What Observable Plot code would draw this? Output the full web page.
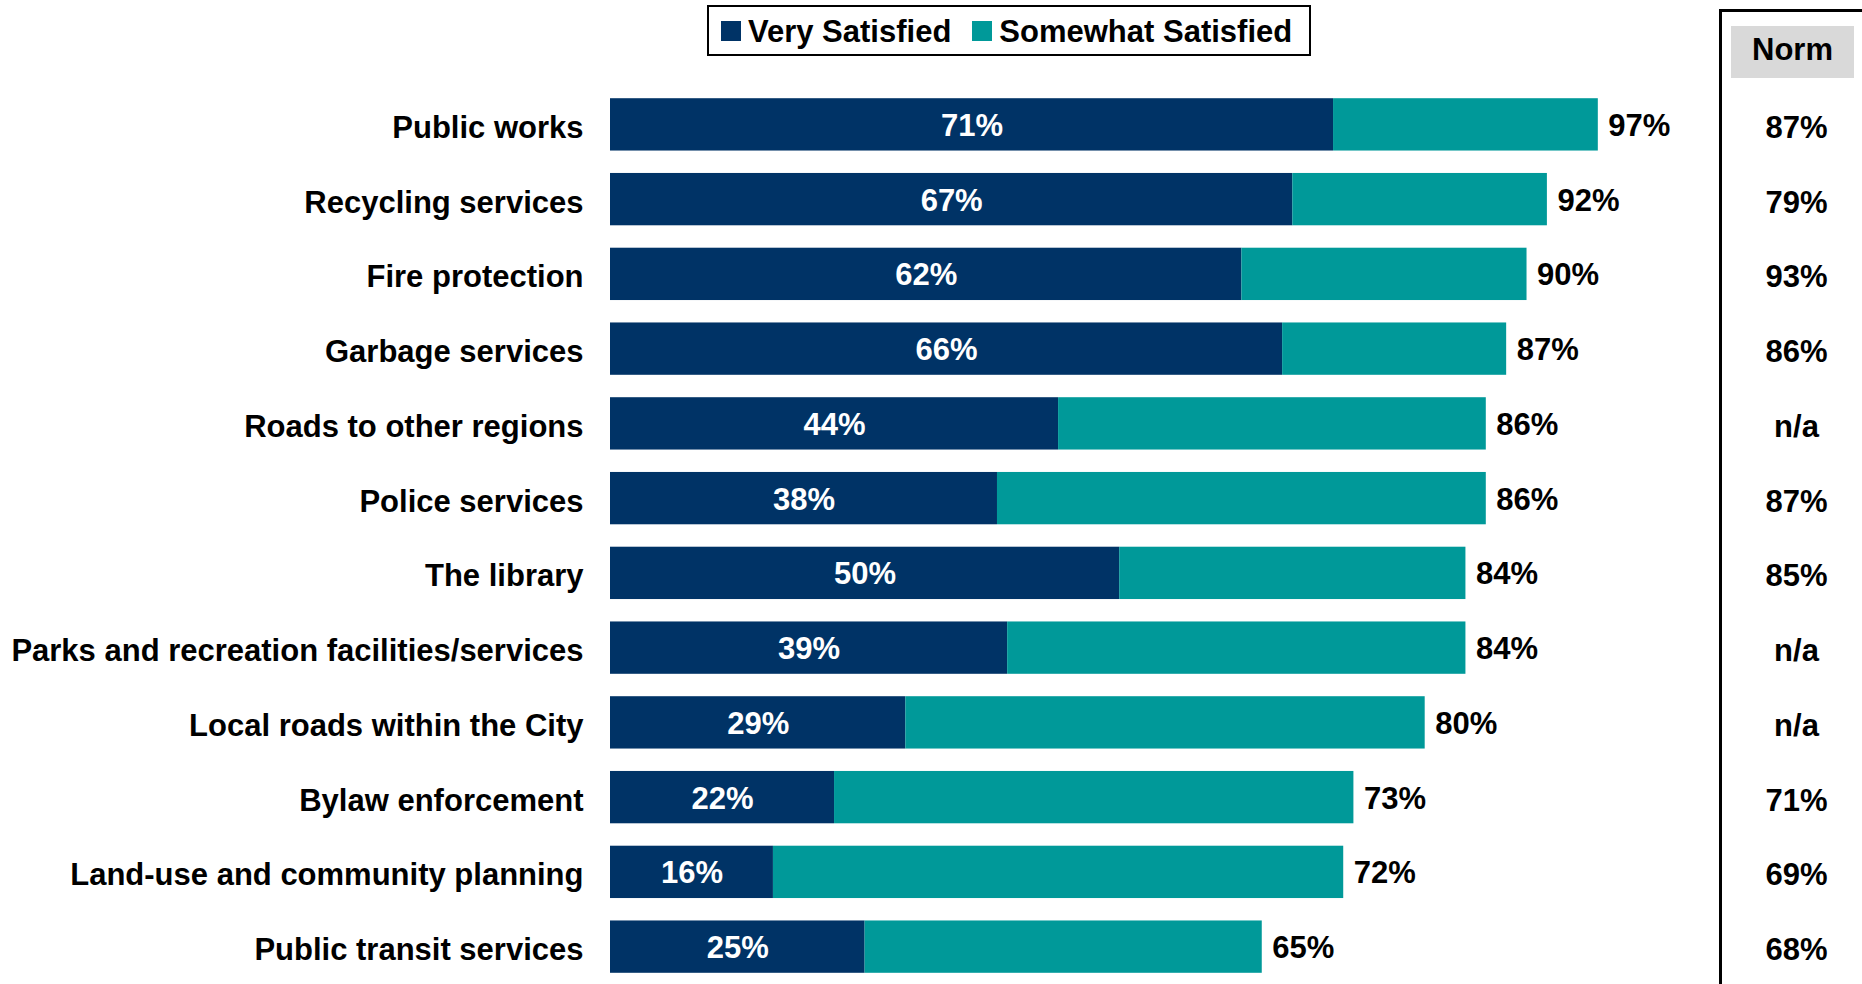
<!DOCTYPE html>
<html>
<head>
<meta charset="utf-8">
<script src="https://cdn.jsdelivr.net/npm/d3@7"></script>
<script src="https://cdn.jsdelivr.net/npm/@observablehq/plot@0.6"></script>
<style>
  html, body { margin: 0; padding: 0; background: #fff; }
  body { font-family: "Liberation Sans", Arial, sans-serif; font-weight: bold; }
  #root { position: relative; width: 1862px; height: 984px; overflow: hidden; }
  #legend { position: absolute; left: 707px; top: 5px; width: 604px; height: 51px; border: 2px solid #000;
            box-sizing: border-box; display: flex; align-items: center; padding-left: 12px; padding-top: 3px;
            font-size: 31px; color: #000; }
  .sw { width: 20px; height: 20px; display: inline-block; margin-right: 7px; margin-top: -3px; }
  .item { display: flex; align-items: center; margin-right: 21px; white-space: nowrap; }
  #main { position: absolute; left: 0; top: 57px; }
  #normbox { position: absolute; left: 1719px; top: 9px; width: 143px; height: 975px; border-left: 3px solid #000;
             border-top: 3px solid #000; box-sizing: border-box; }
  #normhead { position: absolute; left: 1731px; top: 26px; width: 123px; height: 52px; background: #d9d9d9;
              display: flex; align-items: center; justify-content: center; font-size: 31px; color: #000;
              box-sizing: border-box; padding-bottom: 4px; }
  #norm { position: absolute; left: 1722px; top: 57px; }
</style>
</head>
<body>
<div id="root">
  <div id="legend"></div>
  <div id="main"></div>
  <div id="normbox"></div>
  <div id="normhead">Norm</div>
  <div id="norm"></div>
</div>
<script>
// ---- data ----
const services = [
  "Public works",
  "Recycling services",
  "Fire protection",
  "Garbage services",
  "Roads to other regions",
  "Police services",
  "The library",
  "Parks and recreation facilities/services",
  "Local roads within the City",
  "Bylaw enforcement",
  "Land-use and community planning",
  "Public transit services"
];
const verySatisfied     = [71, 67, 62, 66, 44, 38, 50, 39, 29, 22, 16, 25];
const somewhatSatisfied = [26, 25, 28, 22, 42, 48, 34, 45, 51, 51, 56, 39];
const totalLabels       = [97, 92, 90, 87, 86, 86, 84, 84, 80, 73, 72, 65];
const norms             = ["87%", "79%", "93%", "86%", "n/a", "87%", "85%", "n/a", "n/a", "71%", "69%", "68%"];
const seriesNames = ["Very Satisfied", "Somewhat Satisfied"];
const seriesColors = ["#003366", "#009999"];

// ---- tables ----
const rows = services.map((name, i) => ({
  name, very: verySatisfied[i], somewhat: somewhatSatisfied[i], total: totalLabels[i], norm: norms[i]
}));
const long = [];
rows.forEach(r => {
  long.push({name: r.name, series: seriesNames[0], value: r.very});
  long.push({name: r.name, series: seriesNames[1], value: r.somewhat});
});

const font = "'Liberation Sans', Arial, sans-serif";
const FS = 31;
const yScale = {domain: services, paddingInner: 0.3, paddingOuter: 0.15, align: 0.5, round: false};

// ---- legend ----
const legend = document.getElementById("legend");
seriesNames.forEach((s, i) => {
  const it = document.createElement("span");
  it.className = "item";
  it.innerHTML = `<span class="sw" style="background:${seriesColors[i]}"></span><span>${s}</span>`;
  legend.appendChild(it);
});

// ---- main chart ----
const main = Plot.plot({
  width: 1719,
  height: 927,
  marginLeft: 610,
  marginRight: 0,
  marginTop: 30,
  marginBottom: 0,
  style: {fontFamily: font, fontWeight: "bold", fontSize: FS + "px", background: "#fff", color: "#000"},
  x: {domain: [0, 108.9], axis: null},
  y: {...yScale, label: null},
  color: {domain: seriesNames, range: seriesColors},
  marks: [
    Plot.barX(long, {y: "name", x: "value", fill: "series"}),
    Plot.text(rows, {y: "name", x: d => d.very / 2, text: d => d.very + "%", fill: "#fff", fontSize: FS, fontWeight: "bold", dy: 1}),
    Plot.text(rows, {y: "name", x: d => d.very + d.somewhat, text: d => d.total + "%", fill: "#000",
      textAnchor: "start", dx: 10, dy: 1, fontSize: FS, fontWeight: "bold"}),
    Plot.axisY({tickSize: 0, tickPadding: 27, fontSize: FS, fontWeight: "bold", fill: "#000", label: null, dy: 3})
  ]
});
document.getElementById("main").appendChild(main);

// ---- norm column ----
const normPlot = Plot.plot({
  width: 140,
  height: 927,
  marginLeft: 8,
  marginRight: 0,
  marginTop: 30,
  marginBottom: 0,
  style: {fontFamily: font, fontWeight: "bold", fontSize: FS + "px", background: "transparent", color: "#000"},
  y: {...yScale, axis: null},
  marks: [
    Plot.text(rows, {y: "name", frameAnchor: "middle", text: "norm", fill: "#000", fontSize: FS, fontWeight: "bold", dy: 3})
  ]
});
document.getElementById("norm").appendChild(normPlot);
</script>
</body>
</html>
